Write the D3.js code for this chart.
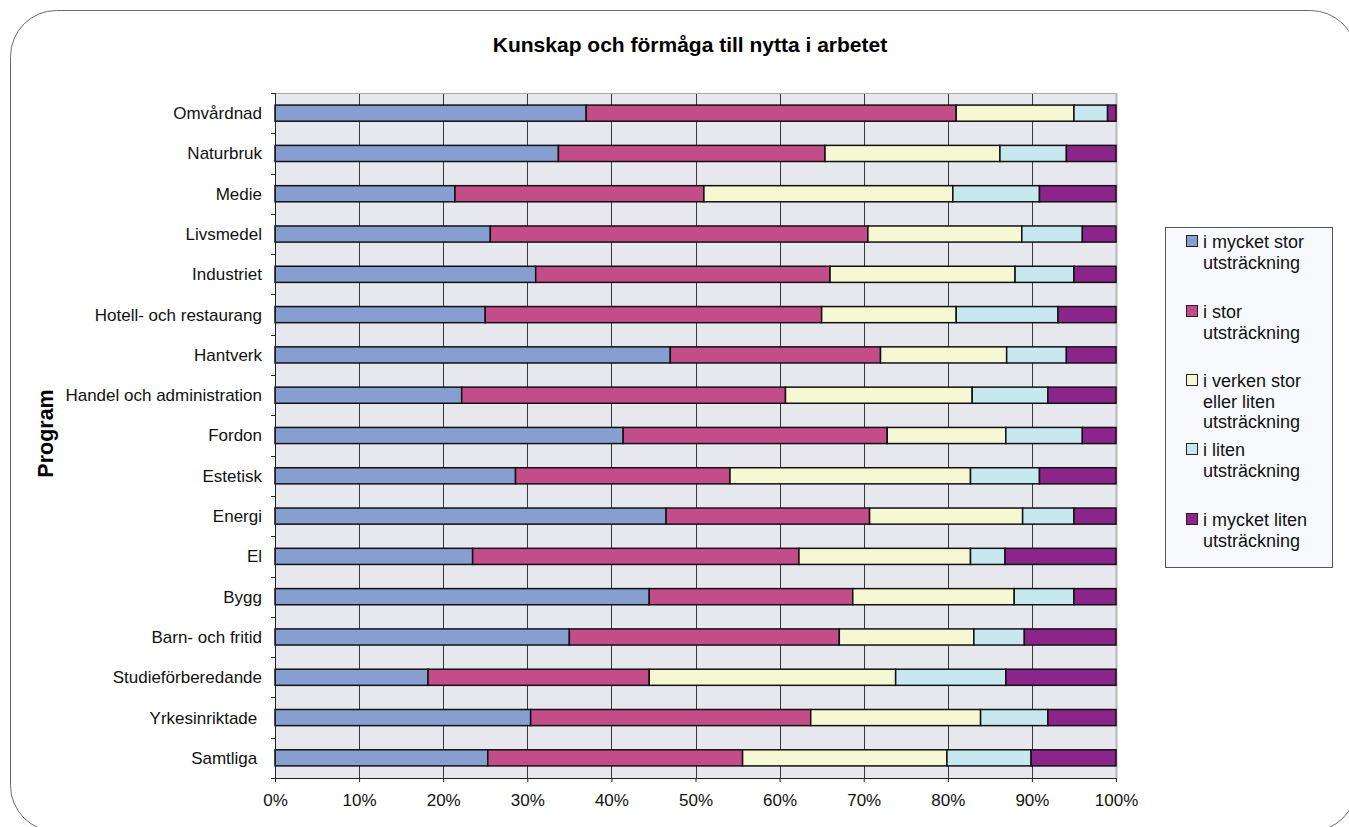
<!DOCTYPE html>
<html>
<head>
<meta charset="utf-8">
<script src="https://cdn.jsdelivr.net/npm/d3@7"></script>
<style>
  html, body { margin: 0; padding: 0; background: #ffffff; }
  svg { display: block; font-family: "Liberation Sans", Arial, sans-serif; }
  text { white-space: pre; }
</style>
</head>
<body>
<svg id="chart" width="1349" height="827"></svg>
<script>
const categories = [
  "Omvårdnad", "Naturbruk", "Medie", "Livsmedel", "Industriet",
  "Hotell- och restaurang", "Hantverk", "Handel och administration", "Fordon",
  "Estetisk", "Energi", "El", "Bygg", "Barn- och fritid",
  "Studieförberedande", "Yrkesinriktade ", "Samtliga "
];
const seriesNames = [
  "i mycket stor\nutsträckning",
  "i stor\nutsträckning",
  "i verken stor\neller liten\nutsträckning",
  "i liten\nutsträckning",
  "i mycket liten\nutsträckning"
];
const mycketStor  = [37.0, 33.7, 21.4, 25.6, 31.0, 25.0, 47.0, 22.2, 41.4, 28.6, 46.5, 23.5, 44.5, 35.0, 18.2, 30.4, 25.3];
const stor        = [44.0, 31.7, 29.6, 44.9, 35.0, 40.0, 25.0, 38.5, 31.4, 25.5, 24.2, 38.8, 24.2, 32.1, 26.3, 33.3, 30.3];
const varken      = [14.0, 20.8, 29.6, 18.3, 22.0, 16.0, 15.0, 22.2, 14.1, 28.6, 18.2, 20.4, 19.2, 16.0, 29.3, 20.2, 24.3];
const liten       = [ 4.0,  7.9, 10.3,  7.2,  7.0, 12.1,  7.1,  9.0,  9.1,  8.2,  6.1,  4.1,  7.1,  6.0, 13.1,  8.0, 10.0];
const mycketLiten = [ 1.0,  5.9,  9.1,  4.0,  5.0,  6.9,  5.9,  8.1,  4.0,  9.1,  5.0, 13.2,  5.0, 10.9, 13.1,  8.1, 10.1];
const xTicks = [0, 10, 20, 30, 40, 50, 60, 70, 80, 90, 100];
const title = "Kunskap och förmåga till nytta i arbetet";
const yTitle = "Program";

const colors = ["#879FD0", "#C34D89", "#F6F7D3", "#C8E8EF", "#8B258B"];
const seriesValues = [mycketStor, stor, varken, liten, mycketLiten];

const svg = d3.select("#chart");

// outer rounded frame
svg.append("rect")
  .attr("x", 10.5).attr("y", 10.5)
  .attr("width", 1346).attr("height", 821)
  .attr("rx", 46).attr("ry", 46)
  .attr("fill", "#ffffff").attr("stroke", "#6a6a6a").attr("stroke-width", 1);

const plot = { left: 275, right: 1116, top: 93, bottom: 778 };

const x = d3.scaleLinear().domain([0, 100]).range([plot.left, plot.right]);
const y = d3.scaleBand().domain(categories).range([plot.top, plot.bottom]).paddingInner(0.6).paddingOuter(0.3);
const yb = d3.scaleBand().domain(categories).range([plot.top, plot.bottom]);

// plot background
svg.append("rect")
  .attr("x", plot.left).attr("y", plot.top)
  .attr("width", plot.right - plot.left).attr("height", plot.bottom - plot.top)
  .attr("fill", "#E7E8EE");

// vertical gridlines
svg.append("g").selectAll("line").data(xTicks.slice(1, -1)).join("line")
  .attr("x1", d => Math.round(x(d)) + 0.5).attr("x2", d => Math.round(x(d)) + 0.5)
  .attr("y1", plot.top).attr("y2", plot.bottom)
  .attr("stroke", "#3a3a3a").attr("stroke-width", 1);

// top and right border
svg.append("line").attr("x1", plot.left).attr("x2", plot.right + 1)
  .attr("y1", plot.top + 0.5).attr("y2", plot.top + 0.5)
  .attr("stroke", "#a8a8a8");
svg.append("line").attr("x1", plot.right + 0.5).attr("x2", plot.right + 0.5)
  .attr("y1", plot.top).attr("y2", plot.bottom)
  .attr("stroke", "#b8b8b8").attr("stroke-width", 2);

// stacked bars
const rows = categories.map((c, i) => {
  let acc = 0;
  return seriesValues.map((s, k) => {
    const start = acc; acc += s[i];
    return { cat: c, k, x0: start, x1: acc };
  });
});
const stackData = rows.flat();
svg.append("g").selectAll("rect").data(stackData).join("rect")
  .attr("x", d => x(d.x0))
  .attr("width", d => Math.min(x(d.x1), x(100)) - x(d.x0))
  .attr("y", d => y(d.cat))
  .attr("height", y.bandwidth())
  .attr("fill", d => colors[d.k])
  .attr("stroke", "#111111").attr("stroke-width", 1.5);

// y axis
const yAxisG = svg.append("g").attr("transform", `translate(${plot.left},0)`);
yAxisG.append("line").attr("x1", 0.5).attr("x2", 0.5).attr("y1", plot.top).attr("y2", plot.bottom)
  .attr("stroke", "#222");
const bounds = categories.map(c => yb(c)).concat([plot.bottom]);
yAxisG.selectAll("line.tk").data(bounds).join("line").attr("class", "tk")
  .attr("x1", -4).attr("x2", 0)
  .attr("y1", d => Math.round(d) + 0.5).attr("y2", d => Math.round(d) + 0.5)
  .attr("stroke", "#222");
yAxisG.selectAll("text").data(categories).join("text")
  .attr("x", -13)
  .attr("y", d => y(d) + y.bandwidth() / 2)
  .attr("dy", "0.35em")
  .attr("text-anchor", "end")
  .attr("font-size", 17)
  .attr("fill", "#111")
  .text(d => d);

// x axis
const xAxis = d3.axisBottom(x).tickValues(xTicks).tickFormat(d => d + "%").tickSize(4).tickSizeOuter(0);
const xAxisG = svg.append("g").attr("transform", `translate(0,${plot.bottom})`).call(xAxis);
xAxisG.select(".domain").attr("stroke", "#222");
xAxisG.selectAll(".tick line").attr("stroke", "#222");
xAxisG.selectAll(".tick text")
  .attr("font-size", 17).attr("fill", "#111")
  .attr("font-family", "Liberation Sans, Arial, sans-serif")
  .attr("y", 16);

// title
svg.append("text")
  .attr("x", 690).attr("y", 51.5)
  .attr("text-anchor", "middle")
  .attr("font-size", 21).attr("font-weight", "bold").attr("fill", "#000")
  .text(title);

// y title
svg.append("text")
  .attr("transform", `translate(53,${(plot.top + plot.bottom) / 2 - 2}) rotate(-90)`)
  .attr("text-anchor", "middle")
  .attr("font-size", 21.5).attr("font-weight", "bold").attr("fill", "#000")
  .text(yTitle);

// legend
const lg = svg.append("g");
lg.append("rect").attr("x", 1165.5).attr("y", 227.5).attr("width", 167).attr("height", 340)
  .attr("fill", "#F8F9FC").attr("stroke", "#555").attr("stroke-width", 1);
const legendTops = [242, 312, 381, 450, 520];
const lineH = 20.5;
seriesNames.forEach((name, k) => {
  const yy = legendTops[k];
  lg.append("rect").attr("x", 1186.5).attr("y", yy - 6.5).attr("width", 11).attr("height", 11)
    .attr("fill", colors[k]).attr("stroke", "#222").attr("stroke-width", 1);
  name.split("\n").forEach((ln, j) => {
    lg.append("text")
      .attr("x", 1203).attr("y", yy + j * lineH)
      .attr("dy", "0.35em")
      .attr("font-size", 18).attr("fill", "#111")
      .text(ln);
  });
});
</script>
</body>
</html>
